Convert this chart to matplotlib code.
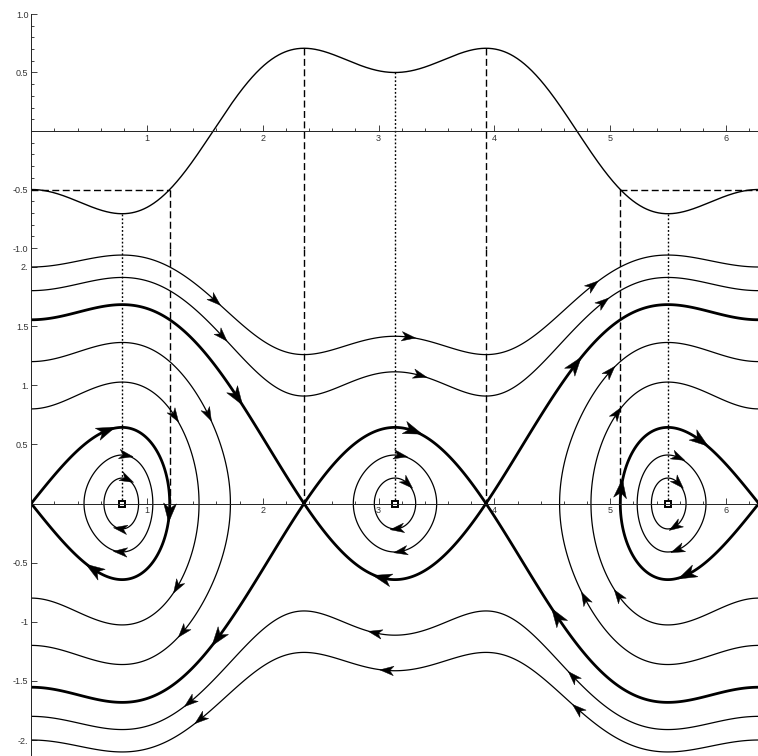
import numpy as np
import matplotlib.pyplot as plt
from matplotlib.patches import Polygon
from matplotlib.transforms import IdentityTransform
from matplotlib.ticker import FixedLocator, FixedFormatter, MultipleLocator

# potential: V(0) = -0.5, V(pi/4) = -0.71, V(3pi/4) = 0.71, V(pi) = 0.5
cos_coef = [-0.75, 0.25]          # multiplies cos(x) and cos(3x)

def V(x):
    return cos_coef[0] * np.cos(x) + cos_coef[1] * np.cos(3 * x)

def dV(x):
    return -cos_coef[0] * np.sin(x) - 3 * cos_coef[1] * np.sin(3 * x)

# phase portrait orbits, read where they cross known x positions
p_at_edge = [2.0, 1.8, 1.2, 0.8]      # momentum at x = 0 for the open / big orbits
p_at_well = [0.215, 0.41]             # momentum above each minimum for the small loops
well_x = [np.pi / 4, np.pi, 7 * np.pi / 4]
saddle_x = [3 * np.pi / 4, 5 * np.pi / 4]
turn_x = [1.196, 5.087]               # where V = V(0) = -0.5

E_edge = [V(0) + p ** 2 / 2 for p in p_at_edge]
E_side = [V(well_x[0]) + p ** 2 / 2 for p in p_at_well]
E_mid = [V(well_x[1]) + p ** 2 / 2 for p in p_at_well]
E_sep = V(saddle_x[0])
E_loop = V(0)

# arrowheads: (energy, x, branch sign, thick)
arrows = [
    (E_edge[0], 1.59, 1, False), (E_edge[0], 3.26, 1, False), (E_edge[0], 4.85, 1, False),
    (E_edge[0], 1.46, -1, False), (E_edge[0], 3.07, -1, False), (E_edge[0], 4.72, -1, False),
    (E_edge[1], 1.65, 1, False), (E_edge[1], 3.36, 1, False), (E_edge[1], 4.94, 1, False),
    (E_edge[1], 1.37, -1, False), (E_edge[1], 2.97, -1, False), (E_edge[1], 4.68, -1, False),
    (E_sep, 1.78, 1, True), (E_sep, 3.30, 1, True), (E_sep, 4.70, 1, True),
    (E_sep, 1.61, -1, True), (E_sep, 3.03, -1, True), (E_sep, 4.54, -1, True),
    (E_edge[2], 1.53, 1, False), (E_edge[2], 5.00, 1, False),
    (E_edge[2], 1.31, -1, False), (E_edge[2], 4.78, -1, False),
    (E_edge[3], 1.24, 1, False), (E_edge[3], 5.06, 1, False),
    (E_edge[3], 1.26, -1, False), (E_edge[3], 5.07, -1, False),
    (E_loop, 0.65, 1, True), (E_loop, 1.193, -1, True), (E_loop, 0.54, -1, True),
    (E_loop, 5.095, 1, True), (E_loop, 5.78, 1, True), (E_loop, 5.66, -1, True),
    (E_side[1], 0.82, 1, False), (E_side[1], 0.77, -1, False),
    (E_side[0], 0.83, 1, False), (E_side[0], 0.77, -1, False),
    (E_side[1], 5.59, 1, False), (E_side[1], 5.58, -1, False),
    (E_side[0], 5.59, 1, False), (E_side[0], 5.56, -1, False),
    (E_mid[1], 3.19, 1, False), (E_mid[1], 3.19, -1, False),
    (E_mid[0], 3.25, 1, False), (E_mid[0], 3.16, -1, False),
]

plt.rcParams['font.family'] = ['Liberation Sans', 'DejaVu Sans']
TXT = '#333333'

fig = plt.figure(figsize=(7.58, 7.56), dpi=100)
W, H = 758, 756
split = 249
ax_top = fig.add_axes([31.2 / W, (H - split) / H, 727.6 / W, split / H])
ax_bot = fig.add_axes([31.2 / W, 0, 727.6 / W, (H - split) / H])
ax_top.set_xlim(0, 2 * np.pi)
ax_bot.set_xlim(0, 2 * np.pi)
ax_top.set_ylim(-(split - 131) / 117, 131 / 117)
ax_bot.set_ylim(-(H - 503.5) / 118.25, (503.5 - split) / 118.25)

for ax in (ax_top, ax_bot):
    ax.patch.set_alpha(0)
    ax.spines['top'].set_visible(False)
    ax.spines['right'].set_visible(False)
    ax.spines['bottom'].set_position(('data', 0))
    for s in ('left', 'bottom'):
        ax.spines[s].set_linewidth(0.7)
        ax.spines[s].set_color('#222222')
    ax.xaxis.set_major_locator(FixedLocator([1, 2, 3, 4, 5, 6]))
    ax.xaxis.set_minor_locator(MultipleLocator(0.2))
    ax.tick_params(which='both', direction='in', width=0.6, colors='#222222',
                   labelcolor=TXT, labelsize=6.5, pad=2)
    ax.tick_params(which='major', length=4)
    ax.tick_params(which='minor', length=2)

ax_top.spines['left'].set_bounds(ax_top.get_ylim()[0], 1.0)
ax_top.yaxis.set_major_locator(FixedLocator([-1.0, -0.5, 0.5, 1.0]))
ax_top.yaxis.set_major_formatter(FixedFormatter(['-1.0', '-0.5', '0.5', '1.0']))
ax_top.yaxis.set_minor_locator(FixedLocator(np.arange(-1.0, 1.01, 0.1)))
bot_ticks = [-2, -1.5, -1, -0.5, 0.5, 1, 1.5, 2]
ax_bot.yaxis.set_major_locator(FixedLocator(bot_ticks))
ax_bot.yaxis.set_major_formatter(FixedFormatter(['-2.', '-1.5', '-1', '-0.5', '0.5', '1.', '1.5', '2.']))

# upper panel: potential
xs = np.linspace(0, 2 * np.pi, 1200)
ax_top.plot(xs, V(xs), color='k', lw=1.0)

dash = (0, (5, 2.5))
dot = (0, (1.3, 1.5))
ylo = ax_top.get_ylim()[0]
yhi = ax_bot.get_ylim()[1]
for gx in saddle_x + turn_x:
    ax_top.plot([gx, gx], [V(gx), ylo], color='k', lw=1.0, ls=dash)
    ax_bot.plot([gx, gx], [yhi, 0], color='k', lw=1.0, ls=dash)
for gx in well_x:
    ax_top.plot([gx, gx], [V(gx), ylo], color='k', lw=1.0, ls=dot)
    ax_bot.plot([gx, gx], [yhi, 0], color='k', lw=1.0, ls=dot)
ax_top.plot([0, turn_x[0]], [E_loop, E_loop], color='k', lw=1.0, ls=dash)
ax_top.plot([turn_x[1], 2 * np.pi], [E_loop, E_loop], color='k', lw=1.0, ls=dash)

# lower panel: level sets of p^2/2 + V(x)
gx_ = np.linspace(-0.05, 2 * np.pi + 0.05, 1600)
gp_ = np.linspace(-2.3, 2.3, 1400)
X, P = np.meshgrid(gx_, gp_)
Hm = P ** 2 / 2 + V(X)
thin = sorted(E_edge + E_side)
ax_bot.contour(X, P, Hm, levels=thin, colors='k', linewidths=0.9, linestyles='solid')
ax_bot.contour(X, P, Hm, levels=[E_loop, E_sep], colors='k', linewidths=2.0, linestyles='solid')
mx = np.linspace(saddle_x[0], saddle_x[1], 600)
MX, MP = np.meshgrid(mx, np.linspace(-0.8, 0.8, 600))
ax_bot.contour(MX, MP, MP ** 2 / 2 + V(MX), levels=E_mid, colors='k', linewidths=0.9,
               linestyles='solid')

ax_bot.plot(well_x, [0, 0, 0], ls='none', marker='s', ms=4.5, mfc='white', mec='k', mew=1.4)


def arrowhead(ax, E, x, sgn, thick):
    p = sgn * np.sqrt(max(2 * (E - V(x)), 0.0))
    vx, vy = p, -dV(x)
    c = ax.transData.transform((x, p))
    c1 = ax.transData.transform((x + 1e-3 * vx, p + 1e-3 * vy))
    d = (c1 - c) / np.hypot(*(c1 - c))
    n = np.array([-d[1], d[0]])
    L, Wd = (19, 13) if thick else (14, 9.5)
    tip = c + d * L * 0.5
    back = c - d * L * 0.5
    pts = [tip, back + n * Wd / 2, c - d * L * 0.22, back - n * Wd / 2]
    ax.add_patch(Polygon(pts, closed=True, facecolor='k', edgecolor='k', lw=0.3,
                         transform=IdentityTransform(), clip_on=False, zorder=5))


for E, x, sgn, thick in arrows:
    arrowhead(ax_bot, E, x, sgn, thick)

fig.savefig('out.png', dpi=100)
